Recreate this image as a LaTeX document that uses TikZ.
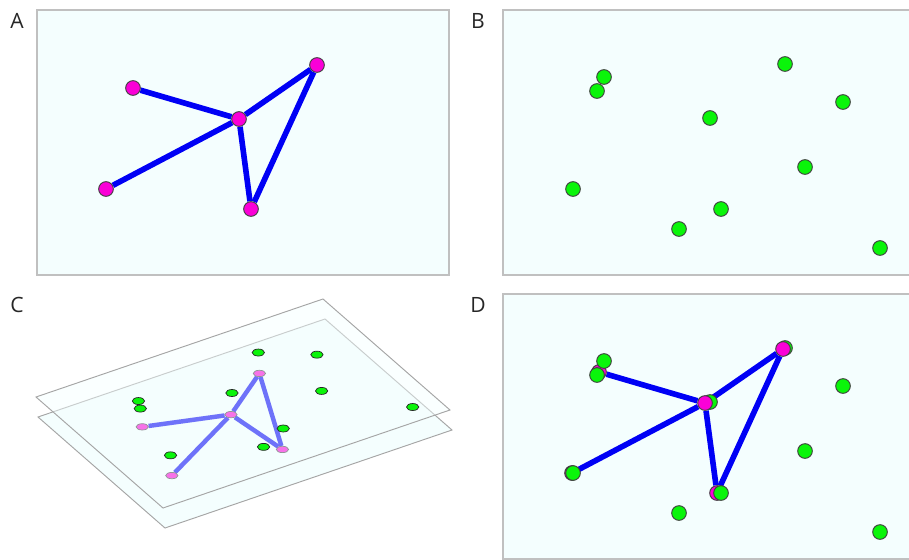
\documentclass[tikz,border=0pt]{standalone}
\usepackage{fontspec}
\setmainfont{Open Sans}
\usetikzlibrary{shapes.geometric}
\definecolor{panelfill}{RGB}{244,254,254}
\definecolor{panelline}{RGB}{192,192,192}
\definecolor{planeline}{RGB}{165,165,165}
\definecolor{dotgreen}{RGB}{10,245,10}
\definecolor{dotpink}{RGB}{250,0,215}
\definecolor{linkblue}{RGB}{0,0,245}
\pgfdeclarelayer{back}
\pgfdeclarelayer{links}
\pgfsetlayers{back,links,main}
\begin{document}
\begin{tikzpicture}[x=0.03cm, y=-0.03cm,
  panel/.style={draw=panelline, fill=panelfill, line width=0.9pt},
  plane/.style={draw=planeline, fill=panelfill, line width=0.8pt},
  link/.style={draw=linkblue, line width=4.8pt},
  flatlink/.style={link, line width=3.8pt},
  mdot/.style={circle, draw=black!75, fill=dotpink, line width=0.8pt, inner sep=0pt, minimum size=0.44cm},
  gdot/.style={mdot, fill=dotgreen},
  flatm/.style={ellipse, draw=black!75, fill=dotpink, line width=0.6pt, inner sep=0pt, minimum width=0.37cm, minimum height=0.19cm},
  flatg/.style={flatm, draw=black!85, fill=dotgreen, minimum height=0.21cm},
  tag/.style={font=\fontsize{18}{20}\selectfont, text=black!85}]
  \useasboundingbox (0,0) rectangle (909,559);
  % panels in pixel units; C shows the two layers tilted
  \begin{pgfonlayer}{back}
    \foreach \x/\y in {37/10, 503/10, 503/294}
      \draw[panel] (\x,\y) rectangle ++(412,265);
  \end{pgfonlayer}
  \foreach \t/\x/\y in {A/17/21, B/478/21, C/17/305, D/478/305}
    \node[tag] (tag-\t) at (\x,\y) {\t};
  \begin{scope}[shift={(37,10)}]
    \foreach \n/\u/\v in {p1/96/78, p2/69/179, bot/214/199, hub/202/109, top/280/55}
      \node[mdot] (a-\n) at (\u,\v) {};
  \end{scope}
  \begin{scope}[shift={(503,10)}]
    \foreach \n/\u/\v in {g1/101/67, g2/94/81, g3/282/54, g4/340/92, g5/207/108,
        g6/302/157, g7/70/179, g8/218/199, g9/176/219, g10/377/238}
      \node[gdot] (b-\n) at (\u,\v) {};
  \end{scope}
  \begin{scope}[shift={(503,294)}]
    \foreach \n/\u/\v in {p1/96/78, p2/69/179, bot/214/199}
      \node[mdot] (d-\n) at (\u,\v) {};
    \foreach \n/\u/\v in {g1/101/67, g2/94/81, g3/282/54, g4/340/92, g5/207/108,
        g6/302/157, g7/70/179, g8/218/199, g9/176/219, g10/377/238}
      \node[gdot] (d-\n) at (\u,\v) {};
    \foreach \n/\u/\v in {hub/202/109, top/280/55}
      \node[mdot] (d-\n) at (\u,\v) {};
  \end{scope}
  \begin{scope}[shift={(38,417)}, cm={0.6966,0.2379,-0.4792,0.4189,(0,0)}]
    \begin{pgfonlayer}{back}
      \draw[plane] (0,0) rectangle (412,265);
    \end{pgfonlayer}
    \foreach \n/\u/\v in {p1/96/78, p2/69/179, bot/214/199, hub/202/109, top/280/55}
      \node[flatm] (c-\n) at (\u,\v) {};
  \end{scope}
  \begin{pgfonlayer}{links}
    \foreach \s/\t in {p1/hub, p2/hub, hub/top, hub/bot, bot/top} {
      \draw[link] (a-\s) -- (a-\t);
      \draw[link] (d-\s) -- (d-\t);
      \draw[flatlink] (c-\s) -- (c-\t);
    }
  \end{pgfonlayer}
  \begin{scope}[shift={(36,397)}, cm={0.6966,0.2379,-0.4792,0.4189,(0,0)}]
    \draw[plane, fill opacity=0.45] (0,0) rectangle (412,265);
    \foreach \n/\u/\v in {g1/101/67, g2/94/81, g3/282/54, g4/340/92, g5/207/108,
        g6/302/157, g7/70/179, g8/218/199, g9/176/219, g10/377/238}
      \node[flatg] (c-\n) at (\u,\v) {};
  \end{scope}
\end{tikzpicture}
\end{document}
